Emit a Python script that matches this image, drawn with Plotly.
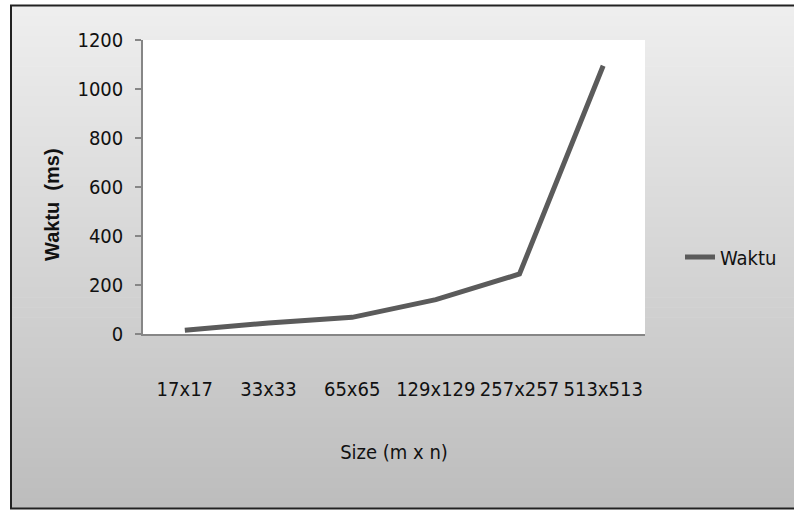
import plotly.graph_objects as go

# Execution time per grid size
sizes = ["17x17", "33x33", "65x65", "129x129", "257x257", "513x513"]
waktu_ms = [15, 45, 68, 140, 245, 1095]

W, H = 794, 510
PLOT_L, PLOT_R, PLOT_T, PLOT_B = 143, 645, 40, 334

NARROW = "DejaVu Sans Condensed, Liberation Sans Narrow, Liberation Sans, sans-serif"
TEXT = "#111111"
AXIS = "#868686"


def px_x(px):
    return (px - PLOT_L) / (PLOT_R - PLOT_L)


def px_y(py):
    return (PLOT_B - py) / (PLOT_B - PLOT_T)


fig = go.Figure()
fig.add_trace(go.Scatter(
    x=sizes, y=waktu_ms, name="Waktu", mode="lines",
    line=dict(color="#5b5b5b", width=5),
))

# Chart-area background: vertical grey gradient inside a framed box
shapes = []
top, bottom = 6, 508
n = 50
c0, c1 = 238, 189
for i in range(n):
    y0 = top + (bottom - top) * i / n
    y1 = top + (bottom - top) * (i + 1) / n + 0.6
    g = round(c0 + (c1 - c0) * i / (n - 1))
    shapes.append(dict(
        type="rect", xref="paper", yref="paper", layer="below",
        x0=px_x(11), x1=px_x(W + 5), y0=px_y(y0), y1=px_y(min(y1, bottom)),
        fillcolor=f"rgb({g},{g},{g})", line=dict(width=0),
    ))
# white plotting area
shapes.append(dict(
    type="rect", xref="paper", yref="paper", layer="below",
    x0=0, x1=1, y0=0, y1=1, fillcolor="white", line=dict(width=0),
))
# outer frame
shapes.append(dict(
    type="rect", xref="paper", yref="paper", layer="below",
    x0=px_x(11), x1=px_x(W + 5), y0=px_y(508.5), y1=px_y(5.5),
    fillcolor="rgba(0,0,0,0)", line=dict(color="#222222", width=2),
))

fig.update_layout(
    width=W, height=H,
    margin=dict(l=PLOT_L, r=W - PLOT_R, t=PLOT_T, b=H - PLOT_B, pad=0,
                autoexpand=False),
    paper_bgcolor="white", plot_bgcolor="white",
    font=dict(family=NARROW, size=20, color=TEXT),
    shapes=shapes,
    showlegend=True,
    legend=dict(
        x=px_x(680), y=px_y(257), xanchor="left", yanchor="middle",
        bgcolor="rgba(0,0,0,0)", font=dict(family=NARROW, size=20, color=TEXT),
        itemwidth=30,
    ),
    # y-axis title placed as rotated text beside the tick labels
    annotations=[dict(
        text="<b>Waktu  (ms)</b>", textangle=-90,
        xref="paper", yref="paper", x=px_x(52), y=px_y(205),
        xanchor="center", yanchor="middle", showarrow=False,
        font=dict(family="Liberation Sans, Arial, sans-serif", size=20, color=TEXT),
    )],
    xaxis=dict(
        type="category", range=[-0.5, 5.5], showgrid=False, zeroline=False,
        showline=True, linecolor=AXIS, linewidth=1.5,
        ticks="", ticklabelstandoff=36,
        tickfont=dict(family=NARROW, size=20, color=TEXT),
        title=dict(text="Size (m x n)", standoff=45,
                   font=dict(family=NARROW, size=20, color=TEXT)),
    ),
    yaxis=dict(
        range=[0, 1200], dtick=200, showgrid=False, zeroline=False,
        showline=True, linecolor=AXIS, linewidth=1.5,
        ticks="outside", ticklen=6, tickcolor=AXIS, tickwidth=1.5,
        ticklabelstandoff=8,
        tickfont=dict(family=NARROW, size=20, color=TEXT),
    ),
)

fig.write_html("out.html")
